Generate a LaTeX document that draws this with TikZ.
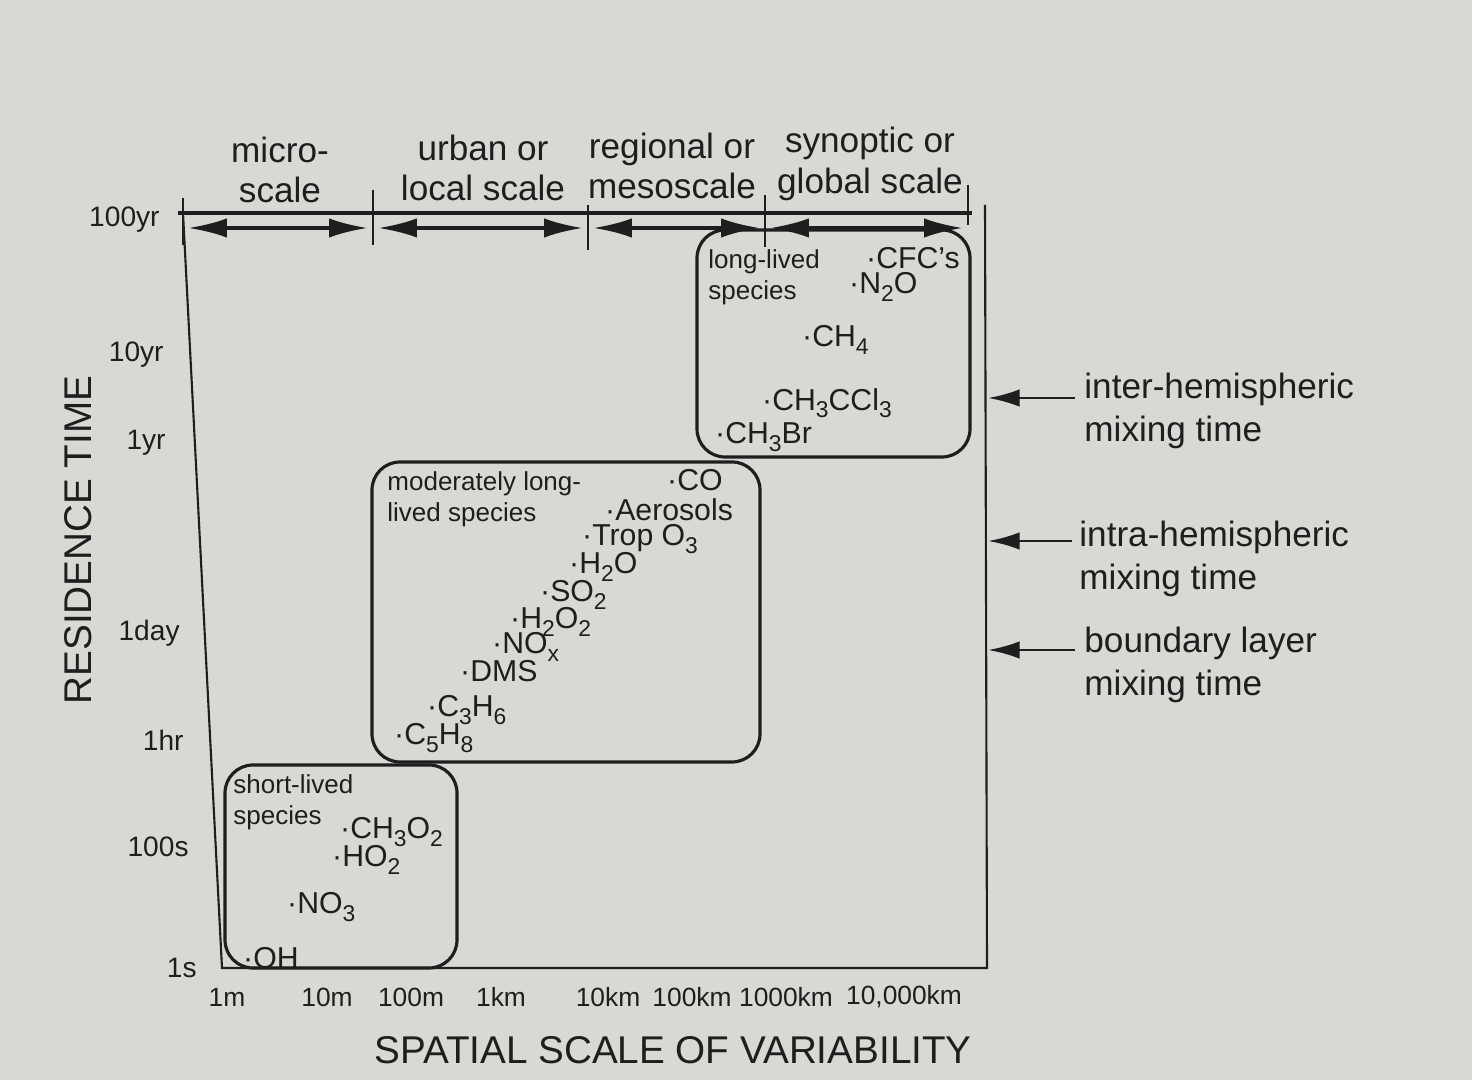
\documentclass[tikz,border=0pt]{standalone}
\usepackage{fontspec}
\setmainfont{Liberation Sans}
\usepackage{tikz}
\usetikzlibrary{arrows.meta}
\definecolor{paper}{RGB}{216,216,213}
\definecolor{ink}{RGB}{30,30,30}
\newcommand{\sdot}{\textperiodcentered}
\newcommand{\sbs}[1]{\raisebox{-0.45ex}{\fontsize{6.5}{7}\selectfont #1}}

\begin{document}
\begin{tikzpicture}[auto, color=ink, text=ink,
    scl/.style={align=center, font=\fontsize{10}{11.5}\selectfont},
    ylab/.style={anchor=east, font=\fontsize{8}{9}\selectfont},
    xlab/.style={font=\fontsize{7.5}{9}\selectfont},
    grp/.style={anchor=west, align=left, font=\fontsize{7.4}{8.8}\selectfont},
    spec/.style={anchor=west, inner sep=1pt, font=\fontsize{8.6}{10}\selectfont},
    mix/.style={anchor=west, align=left, font=\fontsize{10}{12}\selectfont},
    box/.style={line width=0.9pt, rounded corners=0.28cm},
    bar/.style={line width=1pt, {Latex[length=11pt,width=5.5pt]}-{Latex[length=11pt,width=5.5pt]}},
    tip/.style={line width=0.8pt, -{Latex[length=9pt,width=5pt]}}]

    \fill[paper] (0,0) rectangle (14.72,10.80);
    \useasboundingbox (0,0) rectangle (14.72,10.80);

    % frame
    \draw[line width=0.6pt] (1.83,8.67) -- (2.22,1.12) -- (9.87,1.12) -- (9.85,8.75);
    \draw[line width=1pt] (1.78,8.67) -- (9.72,8.67);

    % scale bar
    \coordinate (s0) at (1.83,8.52);
    \coordinate (s1) at (3.73,8.52);
    \coordinate (s2) at (5.88,8.52);
    \coordinate (s3) at (7.65,8.52);
    \coordinate (s4) at (9.68,8.52);
    \draw[line width=0.6pt] (1.83,8.82) -- (1.83,8.35);
    \draw[line width=0.6pt] (3.73,8.90) -- (3.73,8.35);
    \draw[line width=0.6pt] (5.88,8.75) -- (5.88,8.30);
    \draw[line width=0.6pt] (7.65,8.85) -- (7.65,8.33);
    \draw[line width=0.6pt] (9.68,8.95) -- (9.68,8.55);
    \draw[bar] ([xshift=1.5pt]s0) -- ([xshift=-1.5pt]s1);
    \draw[bar] ([xshift=1.5pt]s1) -- ([xshift=-1.5pt]s2);
    \draw[bar] ([xshift=1.5pt]s2) -- ([xshift=-1.5pt]s3);
    \draw[bar] ([xshift=1.5pt]s3) -- ([xshift=-1.5pt]s4);

    \node[scl] (micro) at (2.80,9.10) {micro-\\scale};
    \node[scl] (urban) at (4.83,9.12) {urban or\\local scale};
    \node[scl] (regional) at (6.72,9.14) {regional or\\mesoscale};
    \node[scl] (synoptic) at (8.70,9.16) {synoptic or\\global scale};

    % residence time axis
    \node[ylab] (y100yr) at (1.72,8.60) {100yr};
    \node[ylab] (y10yr) at (1.76,7.25) {10yr};
    \node[ylab] (y1yr) at (1.78,6.37) {1yr};
    \node[ylab] (y1day) at (1.92,4.47) {1day};
    \node[ylab] (y1hr) at (1.96,3.40) {1hr};
    \node[ylab] (y100s) at (2.01,2.33) {100s};
    \node[ylab] (y1s) at (2.09,1.12) {1s};
    \node[rotate=90, font=\fontsize{11}{12}\selectfont] (ytitle) at (0.78,5.40) {RESIDENCE TIME};

    % spatial scale axis
    \node[xlab] (x1m) at (2.27,0.83) {1m};
    \node[xlab] (x10m) at (3.27,0.83) {10m};
    \node[xlab] (x100m) at (4.11,0.83) {100m};
    \node[xlab] (x1km) at (5.01,0.83) {1km};
    \node[xlab] (x10km) at (6.08,0.83) {10km};
    \node[xlab] (x100km) at (6.92,0.83) {100km};
    \node[xlab] (x1000km) at (7.86,0.83) {1000km};
    \node[xlab] (x10000km) at (9.04,0.83) {10,000km};
    \node[font=\fontsize{11}{12}\selectfont] (xtitle) at (6.73,0.30) {SPATIAL SCALE OF VARIABILITY};

    % long-lived species
    \draw[box] (6.97,6.23) rectangle (9.70,8.50);
    \node[grp] (long) at (6.96,8.03) {long-lived\\species};
    \node[spec] (cfc) at (8.62,8.22) {\sdot CFC's};
    \node[spec] (n2o) at (8.45,7.93) {\sdot N\sbs{2}O};
    \node[spec] (ch4) at (7.98,7.40) {\sdot CH\sbs{4}};
    \node[spec] (ch3ccl3) at (7.58,6.77) {\sdot CH\sbs{3}CCl\sbs{3}};
    \node[spec] (ch3br) at (7.11,6.43) {\sdot CH\sbs{3}Br};

    % moderately long-lived species
    \draw[box] (3.72,3.18) rectangle (7.60,6.18);
    \node[grp] (moderate) at (3.75,5.81) {moderately long-\\lived species};
    \node[spec] (co) at (6.63,6.00) {\sdot CO};
    \node[spec] (aero) at (6.01,5.70) {\sdot Aerosols};
    \node[spec] (o3) at (5.78,5.41) {\sdot Trop O\sbs{3}};
    \node[spec] (h2o) at (5.65,5.13) {\sdot H\sbs{2}O};
    \node[spec] (so2) at (5.36,4.85) {\sdot SO\sbs{2}};
    \node[spec] (h2o2) at (5.06,4.58) {\sdot H\sbs{2}O\sbs{2}};
    \node[spec] (nox) at (4.88,4.33) {\sdot NO\sbs{x}};
    \node[spec] (dms) at (4.56,4.09) {\sdot DMS};
    \node[spec] (c3h6) at (4.23,3.70) {\sdot C\sbs{3}H\sbs{6}};
    \node[spec] (c5h8) at (3.90,3.42) {\sdot C\sbs{5}H\sbs{8}};

    % short-lived species
    \draw[box] (2.25,1.12) rectangle (4.57,3.15);
    \node[grp] (short) at (2.21,2.78) {short-lived\\species};
    \node[spec] (ch3o2) at (3.36,2.48) {\sdot CH\sbs{3}O\sbs{2}};
    \node[spec] (ho2) at (3.28,2.20) {\sdot HO\sbs{2}};
    \node[spec] (no3) at (2.83,1.73) {\sdot NO\sbs{3}};
    \node[spec] (oh) at (2.39,1.22) {\sdot OH};

    % mixing times
    \node[mix] (inter) at (10.72,6.69) {inter-hemispheric\\mixing time};
    \node[mix] (intra) at (10.67,5.21) {intra-hemispheric\\mixing time};
    \node[mix] (bound) at (10.72,4.15) {boundary layer\\mixing time};
    \coordinate (m1) at (9.88,6.82);
    \coordinate (m2) at (9.88,5.39);
    \coordinate (m3) at (9.88,4.30);
    \draw[tip] (10.75,6.82) -- (m1);
    \draw[tip] (10.72,5.39) -- (m2);
    \draw[tip] (10.75,4.30) -- (m3);

\end{tikzpicture}
\end{document}
